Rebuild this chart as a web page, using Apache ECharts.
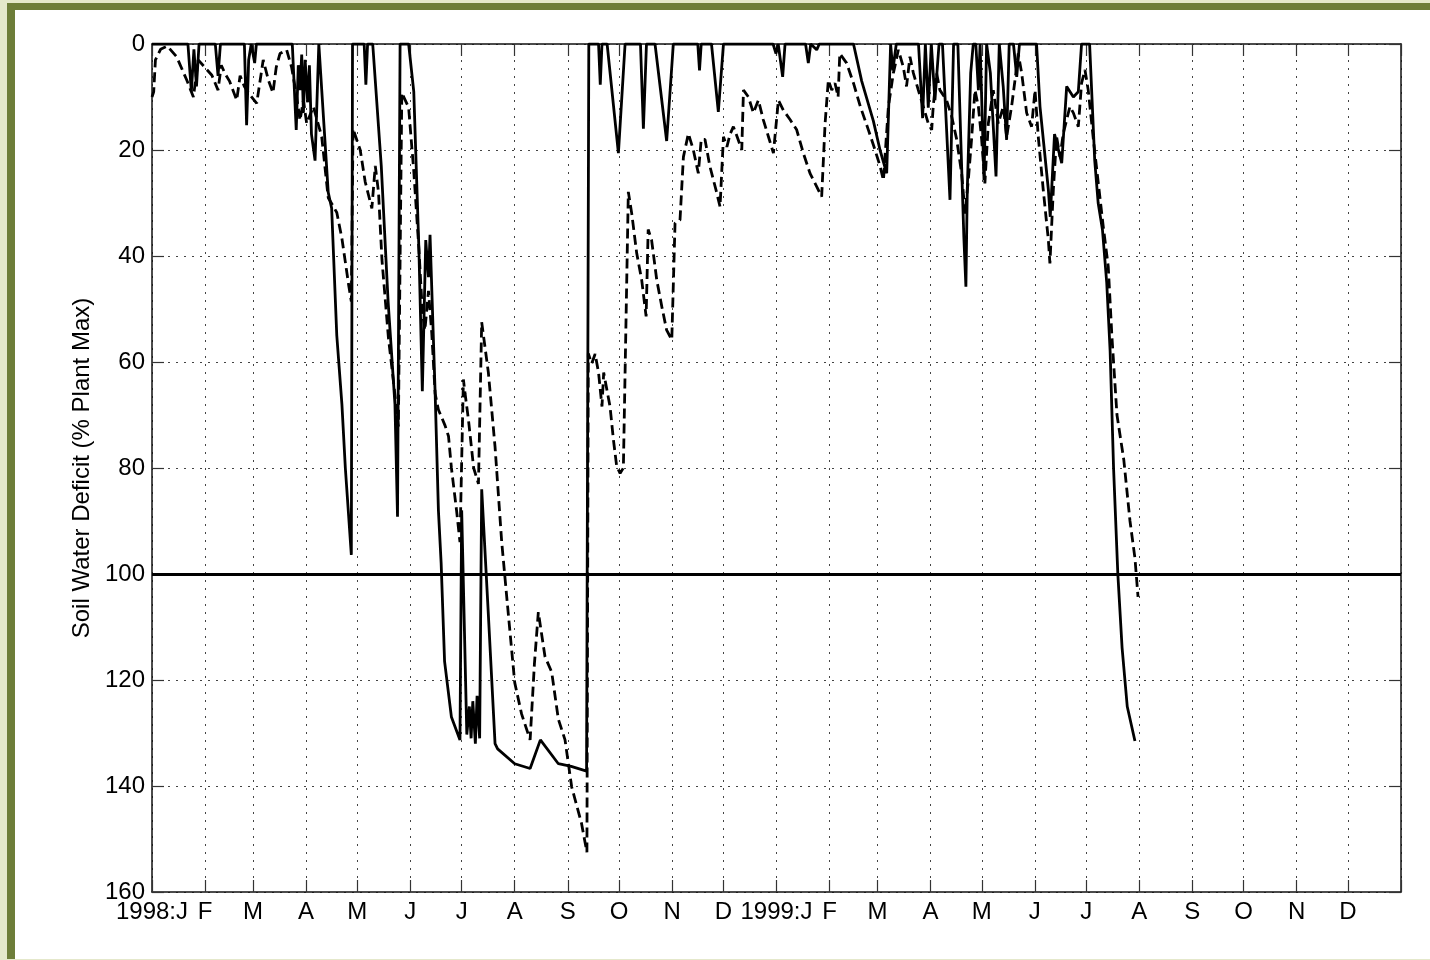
<!DOCTYPE html>
<html>
<head>
<meta charset="utf-8">
<title>Soil Water Deficit</title>
<script src="https://cdn.jsdelivr.net/npm/echarts@6.0.0/dist/echarts.min.js"></script>
<style>
    html, body { margin: 0; padding: 0; }
    body { width: 1430px; height: 960px; background: #e4e8cb; position: relative; overflow: hidden; }
    /* olive frame like the original figure window */
    #frame {
        position: absolute; left: 7px; top: 3px; right: 0; bottom: 1px;
        border-left: 8px solid #6d7d39; border-top: 7px solid #6d7d39;
        background: #ffffff;
    }
    #main { position: absolute; left: 0; top: 0; width: 1430px; height: 960px; }
</style>
</head>
<body>
<div id="frame"></div>
<div id="main"></div>
<script>
// x axis: day number counted from 1998-01-01, ticks on the first of each month
var monthStarts = [0, 31, 59, 90, 120, 151, 181, 212, 243, 273, 304, 334,
    365, 396, 424, 455, 485, 516, 546, 577, 608, 638, 669, 699, 730];
var monthLabels = ['1998:J', 'F', 'M', 'A', 'M', 'J', 'J', 'A', 'S', 'O', 'N', 'D',
    '1999:J', 'F', 'M', 'A', 'M', 'J', 'J', 'A', 'S', 'O', 'N', 'D', ''];
var yTicks = [0, 20, 40, 60, 80, 100, 120, 140, 160];
var plantMax = 100;

// solid line [day, deficit %]
var solidData = [
    [0, 0], [21, 0], [23, 9], [24.5, 1], [26, 8], [27.5, 0], [37, 0], [38.6, 6], [40, 0],
    [54, 0], [55.3, 15.3], [56.5, 3], [58, 0], [60, 3.6], [61, 0],
    [82, 0], [84.3, 16.2], [85.5, 4], [86.5, 8.7], [87.5, 2], [88.5, 13], [89.5, 3], [91, 11],
    [92, 4], [93.2, 17], [95.3, 22], [97.5, 0], [98.5, 0],
    [103, 28], [105, 31], [108, 55], [111, 68], [113, 80], [116.5, 96.4], [117.2, 0],
    [124, 0], [125, 7.7], [126, 0], [129, 0], [134, 23], [138, 48.6], [142, 68], [143.5, 89.2], [145, 0],
    [150, 0], [153, 9], [156, 38.7], [158, 65.5], [160, 37], [161.6, 44], [162.5, 36], [165.5, 66],
    [167.4, 88], [169, 98], [171, 116.5], [175, 127], [180, 131.3], [181, 88], [184, 130.3],
    [185.5, 125], [186.5, 131], [187.5, 124], [189, 132], [190, 123], [191.5, 131], [192.7, 84],
    [196.6, 107.7], [200.5, 132], [202, 133], [212, 135.8], [221, 136.7], [227, 131.3],
    [237.5, 135.8], [245, 136.3], [254, 137.2], [255.3, 0],
    [261, 0], [262, 7.7], [263, 0], [266, 0], [272.6, 20.6], [276.5, 0], [285.5, 0], [287.2, 16], [289, 0],
    [294, 0], [300.8, 18.3], [304.7, 0], [319, 0], [320, 5], [321, 0], [327, 0], [331, 12.8], [334, 0],
    [363, 0], [364.7, 1.8], [366, 0], [367, 0], [368.6, 6.2], [370, 0], [382, 0], [383.6, 3.6], [385, 0],
    [388.5, 1.1], [390, 0],
    [410, 0], [414.8, 7], [421.6, 14.5], [425.5, 20], [429.4, 24.4], [431.7, 0], [433, 5], [435, 0],
    [448, 0], [450.4, 14], [452, 0], [453.7, 12], [455.5, 0], [457.6, 10.6], [460, 0], [462, 0],
    [466.4, 29.4], [468.5, 0], [471, 0], [473, 21], [474.5, 36.4], [475.7, 45.8], [476.5, 27.5],
    [478.5, 5.5], [480, 0], [481.5, 0], [483, 8.7], [484, 0], [486.3, 25.7], [487.8, 0], [490, 5.5],
    [493.3, 25], [495.2, 0], [497.5, 8], [499.5, 18.1], [501, 0], [503.5, 0], [505.4, 6.2], [507, 0],
    [517, 0], [519, 11.8], [523.9, 27.5], [525, 32.6], [527.5, 17], [531.7, 22.5], [534.6, 8],
    [538.5, 10], [541.4, 9], [543.3, 0], [548, 0],
    [551, 22], [553, 30], [555.5, 35], [558, 45], [560, 58], [562, 80], [564.5, 100], [567, 114],
    [570, 125], [574.5, 131.5]
];

// dashed line [day, deficit %]
var dashedData = [
    [0, 10], [1, 9], [2, 3], [5, 1], [9, 0.4], [14.4, 2.4], [20.3, 6.8], [24.2, 10], [27, 3], [30.6, 4.3],
    [35, 5.9], [38.6, 8.7], [40.5, 4], [42.7, 5.6], [45.3, 7], [49.5, 10.6], [51.5, 6], [54, 8], [57, 9.5],
    [61.2, 11.2], [65, 3], [68, 6.8], [70.7, 9.2], [72.6, 4.4], [74.8, 1.8], [78.7, 1.1], [81.6, 4.4],
    [84.6, 10], [86.5, 14.4], [88.5, 10.6], [90.4, 15], [94.3, 11.8], [99.2, 17.5], [103, 29], [108, 31.8],
    [111, 36.7], [115, 45.6], [116.5, 48.6], [117.5, 16], [121.7, 20], [124.6, 26], [128.5, 31],
    [130.5, 23], [132.4, 28], [134.4, 40.7], [138.2, 55.5], [141, 63.3], [144, 72.2], [146, 9.2],
    [150, 12], [153, 24], [156, 38.7], [158, 50.5], [159.5, 54], [161.6, 46.6], [163.5, 54.5],
    [165.5, 66], [167.4, 69], [171.3, 72], [173.3, 74], [175, 80], [178, 88], [180, 94], [182, 63.3],
    [183, 66], [185, 71], [188, 80], [190.8, 83], [192.7, 52.5], [196.6, 62], [200.5, 76], [204.4, 94],
    [208.3, 107.7], [212, 120.5], [216, 126.4], [221, 131.3], [223.5, 117], [225.8, 107.2],
    [229.7, 115.6], [233.6, 118.5], [237.5, 127.4], [241.4, 131.3], [245.3, 140.2], [251, 147],
    [254.2, 152.5], [255, 58.4], [257, 60.3], [259, 58.5], [261, 62], [263, 68.4], [264, 62],
    [267.7, 68.4], [269.7, 74.7], [271.6, 79.7], [273.6, 81], [275.5, 80], [278.4, 27.9], [280.4, 32],
    [283.3, 39.5], [286.2, 44.5], [288.8, 51.4], [290, 35], [292, 37], [295, 44.5], [298, 49.6],
    [300.8, 54], [303.8, 55.8], [305.7, 33.8], [308.6, 33.2], [310.6, 21.3], [313.5, 16.9], [316.4, 20],
    [319.3, 24.4], [321, 18], [323.2, 18], [326, 23], [330, 28], [332, 30.7], [334, 17.5], [336, 19.4],
    [337.9, 17], [339.8, 15.6], [342, 17.5], [344.7, 20], [345.7, 8.7], [348.6, 10], [351.5, 13],
    [354.4, 10.6], [357.3, 14.3], [360.3, 17.5], [363.2, 20.6], [366.1, 10.6], [369, 12.5], [373, 14.3],
    [376.8, 16.2], [380.7, 20.6], [384.6, 24.4], [388.5, 26.9], [391.4, 28.8], [393.4, 15], [395.3, 6.8],
    [397.3, 8.7], [399.2, 7.4], [401, 10], [402, 1.8], [406, 3.6], [410, 7.4], [414, 11.8], [418.7, 16.2],
    [422.6, 20], [425.5, 23], [427.5, 25.7], [430.4, 11.8], [433.3, 5.5], [435, 3], [436.2, 1.1],
    [439.1, 4.3], [441, 8], [443, 2.4], [445, 5.5], [447.9, 8.7], [450.8, 11.8], [453.7, 15],
    [455.7, 16.2], [456.6, 11.8], [458.6, 5.5], [460.5, 8.7], [464.4, 10.6], [467.4, 13.7], [470.3, 18],
    [473.2, 24.4], [475.2, 32], [477.1, 25.7], [479, 18], [481, 8.7], [483, 11.8], [484.9, 18],
    [486.8, 26.3], [488.8, 15], [491.7, 8.7], [494.6, 15], [497.6, 11.8], [499.5, 17.5], [502.4, 11.8],
    [504.4, 6.8], [506.3, 1.8], [508.3, 5.5], [511.2, 13], [514.1, 15.6], [516.1, 8.7], [518, 17.5],
    [520.9, 27.5], [523.9, 37], [524.8, 41.4], [526.8, 27.5], [528.7, 17.5], [530.7, 21.3], [532.6, 16.9],
    [536.5, 11.8], [538.5, 13], [541.4, 15.6], [543.3, 7.4], [545.3, 4.9], [547.2, 8.7], [550.2, 18],
    [553.1, 26.3], [556, 34.5], [558.9, 42], [561, 55], [564, 70], [568, 78.5], [571.6, 90],
    [574.5, 97], [576.3, 104.3]
];

var FONT = '"Liberation Sans", Arial, Helvetica, sans-serif';
var INK = '#111';

var myChart = echarts.init(document.getElementById('main'), null, { renderer: 'canvas' });

var option = {
    animation: false,
    backgroundColor: 'transparent',
    grid: { left: 152, right: 29, top: 44, bottom: 68, containLabel: false },
    xAxis: [{
        type: 'value',
        position: 'bottom',
        min: monthStarts[0],
        max: monthStarts[monthStarts.length - 1],
        axisLine: { show: true, onZero: false, lineStyle: { color: INK, width: 1.5 } },
        axisTick: { show: true, inside: true, length: 12, customValues: monthStarts,
            lineStyle: { color: '#333', width: 1.2 } },
        axisLabel: {
            show: true, margin: 8, fontSize: 24, fontFamily: FONT, color: '#000',
            customValues: monthStarts.slice(0, monthStarts.length - 1),
            formatter: function (v) {
                var i = monthStarts.indexOf(v);
                return i < 0 ? '' : monthLabels[i];
            }
        },
        splitLine: { show: true, lineStyle: { color: '#444', width: 1, type: [2, 6] } }
    }, {
        // mirror ticks along the top edge (box style)
        type: 'value',
        position: 'top',
        min: monthStarts[0],
        max: monthStarts[monthStarts.length - 1],
        axisLine: { show: true, onZero: false, lineStyle: { color: INK, width: 1.5 } },
        axisTick: { show: true, inside: true, length: 12, customValues: monthStarts,
            lineStyle: { color: '#333', width: 1.2 } },
        axisLabel: { show: false },
        splitLine: { show: false }
    }],
    yAxis: [{
        type: 'value',
        inverse: true,
        min: yTicks[0],
        max: yTicks[yTicks.length - 1],
        interval: 20,
        name: 'Soil Water Deficit (% Plant Max)',
        nameLocation: 'middle',
        nameGap: 56,
        nameTextStyle: { fontSize: 24, fontFamily: FONT, color: '#000' },
        axisLine: { show: true, onZero: false, lineStyle: { color: INK, width: 1.5 } },
        axisTick: { show: true, inside: true, length: 12, lineStyle: { color: '#333', width: 1.2 } },
        axisLabel: { margin: 7, fontSize: 24, fontFamily: FONT, color: '#000' },
        splitLine: { show: true, lineStyle: { color: '#444', width: 1, type: [2, 6] } }
    }, {
        type: 'value',
        position: 'right',
        inverse: true,
        min: yTicks[0],
        max: yTicks[yTicks.length - 1],
        interval: 20,
        axisLine: { show: true, onZero: false, lineStyle: { color: INK, width: 1.5 } },
        axisTick: { show: true, inside: true, length: 12, lineStyle: { color: '#333', width: 1.2 } },
        axisLabel: { show: false },
        splitLine: { show: false }
    }],
    series: [
        {
            name: 'solid',
            type: 'line',
            data: solidData,
            showSymbol: false,
            symbol: 'none',
            lineStyle: { color: '#000', width: 2.8, type: 'solid' },
            // horizontal reference at 100 % of plant max
            markLine: {
                silent: true,
                symbol: ['none', 'none'],
                label: { show: false },
                lineStyle: { color: '#000', width: 3, type: 'solid' },
                data: [{ yAxis: plantMax }]
            },
            z: 3
        },
        {
            name: 'dashed',
            type: 'line',
            data: dashedData,
            showSymbol: false,
            symbol: 'none',
            lineStyle: { color: '#000', width: 2.8, type: [10, 5] },
            z: 2
        }
    ]
};

myChart.setOption(option);
</script>
</body>
</html>
